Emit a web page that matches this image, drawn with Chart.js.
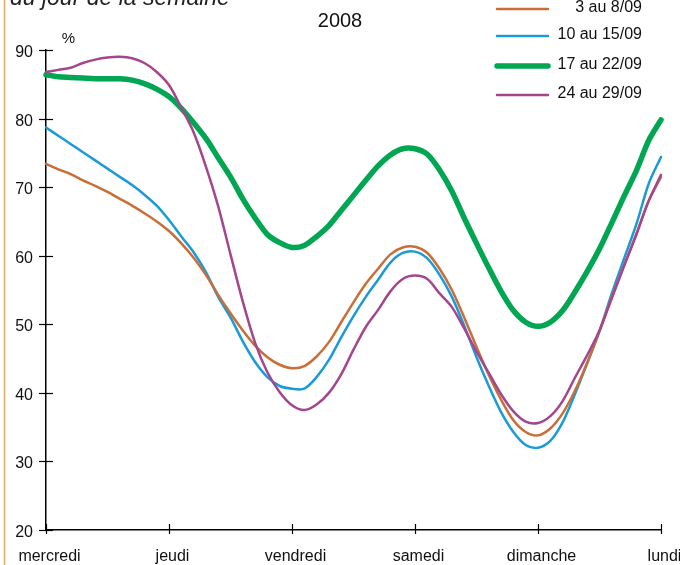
<!DOCTYPE html>
<html><head><meta charset="utf-8">
<script src="https://cdn.jsdelivr.net/npm/chart.js@4.4.1/dist/chart.umd.min.js"></script>
<style>html,body{margin:0;padding:0;background:#fff;overflow:hidden}#wrap{width:680px;height:565px;position:relative}</style>
</head><body><div id="wrap"><canvas id="c" width="680" height="565"></canvas></div>
<script>
// Day labels at integer positions 0..5
const dayLabels = ['mercredi', 'jeudi', 'vendredi', 'samedi', 'dimanche', 'lundi'];
const yTicks = [20, 30, 40, 50, 60, 70, 80, 90];
// sample times (in days from mercredi)
const xValues = [0,0.1,0.2,0.3,0.4,0.5,0.6,0.7,0.8,0.9,1,1.1,1.2,1.3,1.4,1.5,1.6,1.7,1.8,1.9,2,2.1,2.2,2.3,2.4,2.5,2.6,2.7,2.8,2.9,3,3.1,3.2,3.3,3.4,3.5,3.6,3.7,3.8,3.9,4,4.1,4.2,4.3,4.4,4.5,4.6,4.7,4.8,4.9,5];
const seriesNames = ['3 au 8/09', '10 au 15/09', '17 au 22/09', '24 au 29/09'];
const week1 = [73.4,72.6,71.9,71.0,70.2,69.3,68.3,67.3,66.2,65.0,63.6,61.8,59.7,57.2,54.3,51.6,49.1,46.9,45.2,44.1,43.6,43.9,45.3,47.4,50.3,53.2,55.9,58.1,60.2,61.2,61.3,60.4,58.1,55.0,51.0,46.7,42.6,39.0,36.0,34.3,33.8,34.8,37.0,40.3,44.4,49.0,54.0,58.6,63.2,68.0,71.5];
const week2 = [78.7,77.5,76.3,75.1,73.9,72.7,71.5,70.3,68.9,67.3,65.2,62.8,60.5,57.6,54.0,51.0,47.5,44.5,42.3,41.0,40.6,40.6,42.3,44.8,48.1,51.2,54.0,56.5,59.0,60.4,60.6,59.6,57.2,54.0,49.8,45.2,41.0,37.2,34.3,32.4,32.0,33.0,35.7,39.8,44.3,49.0,54.5,59.6,64.6,70.5,74.4];
const week3 = [86.4,86.1,86.0,85.9,85.8,85.8,85.8,85.6,85.1,84.3,83.2,81.5,79.4,77.1,74.3,71.5,68.3,65.5,63.1,61.9,61.2,61.5,62.8,64.4,66.6,68.8,71.0,73.1,74.7,75.6,75.6,74.8,72.5,69.4,65.5,61.8,58.2,54.8,52.0,50.3,49.7,50.3,52.0,54.7,57.7,61.0,64.8,68.7,72.4,76.8,79.8];
const week4 = [86.8,87.1,87.4,88.1,88.6,88.9,89.0,88.8,88.1,86.8,84.9,81.6,78.0,73.0,67.2,60.2,53.3,47.3,43.0,40.1,38.2,37.5,38.3,40.0,42.7,46.3,49.6,52.1,54.8,56.6,57.1,56.6,54.5,52.5,49.4,46.0,42.9,39.8,37.3,35.8,35.6,36.6,38.8,42.2,45.5,49.1,53.8,58.5,63.1,68.0,71.8];

const colors = ['#C96E37', '#1A9AD7', '#00A651', '#A3468E'];
const widths = [2.5, 2.5, 5.5, 2.5];
const allSeries = [week1, week2, week3, week4];

const datasets = allSeries.map((s, i) => ({
  label: seriesNames[i],
  data: s.map((v, k) => ({x: xValues[k], y: v})),
  borderColor: colors[i],
  borderWidth: widths[i],
  pointRadius: 0,
  tension: 0.3,
  fill: false,
  clip: false,
  borderCapStyle: 'round',
  order: i === 2 ? 1 : (i === 3 ? 0 : 2 + i)
}));

const FONT = '"Liberation Sans", Arial, sans-serif';

const decor = {
  id: 'decor',
  afterDraw(chart) {
    const ctx = chart.ctx;
    const xs = chart.scales.x, ys = chart.scales.y;
    const area = chart.chartArea;
    ctx.save();
    // left orange frame line
    ctx.strokeStyle = '#E5A85A';
    ctx.lineWidth = 1.5;
    ctx.beginPath(); ctx.moveTo(4.5, 0); ctx.lineTo(4.5, 565); ctx.stroke();
    // tick marks and labels
    ctx.strokeStyle = '#000';
    ctx.lineWidth = 1.2;
    ctx.fillStyle = '#111';
    ctx.font = '16px ' + FONT;
    ctx.textAlign = 'right'; ctx.textBaseline = 'middle';
    yTicks.forEach(v => {
      const y = Math.round(ys.getPixelForValue(v)) + 0.5;
      ctx.beginPath(); ctx.moveTo(area.left - 7, y); ctx.lineTo(area.left + 7, y); ctx.stroke();
      ctx.fillText(String(v), 33, y + 2);
    });
    ctx.textAlign = 'center';
    dayLabels.forEach((d, i) => {
      const x = Math.round(xs.getPixelForValue(i)) + 0.5;
      ctx.beginPath(); ctx.moveTo(x, area.bottom - 6); ctx.lineTo(x, area.bottom + 4); ctx.stroke();
      ctx.fillText(d, x + 3, 557);
    });
    // italic header (cut at top)
    ctx.fillStyle = '#222';
    ctx.font = 'italic 23px ' + FONT;
    ctx.textAlign = 'left'; ctx.textBaseline = 'alphabetic';
    ctx.fillText('du jour de la semaine', 10, 5);
    // year title
    ctx.font = '20px ' + FONT;
    ctx.textAlign = 'center'; ctx.textBaseline = 'middle';
    ctx.fillStyle = '#111';
    ctx.fillText('2008', 340, 21);
    // percent unit
    ctx.font = '15px ' + FONT;
    ctx.fillText('%', 68.5, 39);
    // legend
    const rows = [9, 36, 66, 95];
    ctx.font = '16px ' + FONT;
    ctx.textAlign = 'right';
    chart.data.datasets.forEach((ds, i) => {
      ctx.strokeStyle = ds.borderColor;
      ctx.lineWidth = ds.borderWidth;
      ctx.lineCap = 'round';
      ctx.beginPath(); ctx.moveTo(497, rows[i]); ctx.lineTo(548, rows[i]); ctx.stroke();
      ctx.fillStyle = '#111';
      ctx.fillText(ds.label, 642, rows[i] - 1);
    });
    ctx.restore();
  }
};

new Chart(document.getElementById('c'), {
  type: 'line',
  data: { datasets },
  options: {
    responsive: false,
    animation: false,
    devicePixelRatio: 1,
    layout: { padding: { top: 50, right: 19, left: 0, bottom: 0 } },
    plugins: { legend: { display: false }, tooltip: { enabled: false } },
    scales: {
      x: {
        type: 'linear', min: 0, max: 5,
        afterFit(s) { s.height = 35; },
        afterBuildTicks(s) { s.ticks = dayLabels.map((d, i) => ({ value: i })); },
        grid: { display: false, drawTicks: false },
        border: { display: true, color: '#000', width: 1.5 },
        ticks: { display: false }
      },
      y: {
        min: 20, max: 90,
        afterFit(s) { s.width = 46; },
        afterBuildTicks(s) { s.ticks = yTicks.map(v => ({ value: v })); },
        grid: { display: false, drawTicks: false },
        border: { display: true, color: '#000', width: 1.5 },
        ticks: { display: false }
      }
    }
  },
  plugins: [decor]
});
</script>
</body></html>
